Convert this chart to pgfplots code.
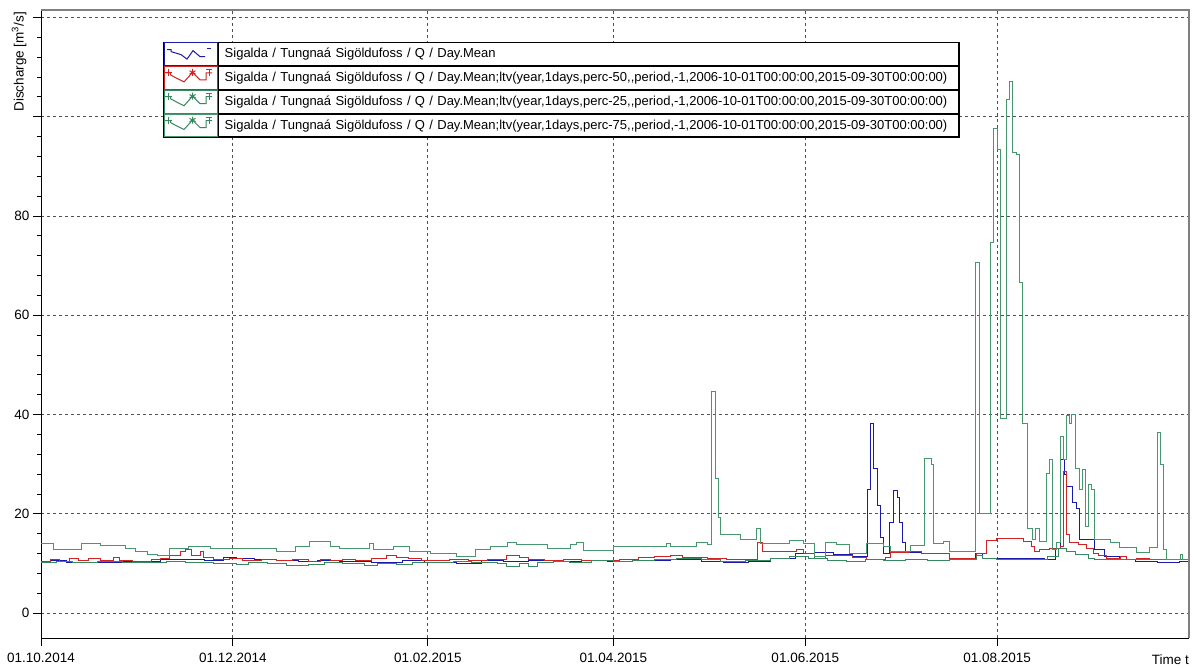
\documentclass[border=0pt]{standalone}
\usepackage{pgfplots}
\pgfplotsset{compat=1.18}
\usepackage{fontspec}
\setmainfont{Liberation Sans}
\definecolor{cblue}{RGB}{25,25,170}
\definecolor{cred}{RGB}{210,35,35}
\definecolor{cgreen}{RGB}{55,135,95}
\definecolor{cgreenb}{RGB}{70,150,110}
\definecolor{gridc}{RGB}{80,80,80}
\definecolor{framec}{RGB}{128,128,128}
\newcommand\fs{\fontsize{13.5}{16}\selectfont}
\newcommand\lfs{\fontsize{13}{16}\selectfont}
\newcommand\cc{,\kern0pt,}
\pgfplotsset{
  zigblue/.style={legend image code/.code={
    \path (0pt,-11.4pt) rectangle (53.7pt,11.4pt);
    \draw[cblue,line width=1pt] (3pt,4.5pt) -- (7pt,4.5pt) -- (7pt,2.5pt) -- (17pt,-0.5pt) -- (23pt,-5pt) -- (29pt,3.5pt) -- (36pt,-2.5pt) -- (41pt,-2.5pt);
    \draw[cblue,line width=1pt] (43pt,6pt) -- (47pt,6pt);
  }},
  zigmark/.style={legend image code/.code={
    \path (0pt,-11.4pt) rectangle (53.7pt,11.4pt);
    \draw[#1,line width=1pt] (2pt,5pt) -- (6.5pt,5pt) -- (6.5pt,3pt) -- (12pt,0pt) -- (20pt,-4pt) -- (28.5pt,5.5pt) -- (36pt,-2pt) -- (42pt,-2pt) -- (42pt,5pt) -- (48pt,5pt);
    \draw[#1,line width=1pt] (4.5pt,1.5pt) -- (4.5pt,8.5pt) (1pt,5pt) -- (8pt,5pt);
    \draw[#1,line width=1pt] (28.5pt,2pt) -- (28.5pt,9pt) (25.5pt,3.8pt) -- (31.5pt,7.2pt) (25.5pt,7.2pt) -- (31.5pt,3.8pt);
    \draw[#1,line width=1pt] (45pt,1.5pt) -- (45pt,8.5pt) (42pt,8.5pt) -- (48pt,8.5pt);
  }},
}
\begin{document}
\begin{tikzpicture}
\useasboundingbox (0,0) rectangle (1194pt,667pt);
\begin{axis}[
  at={(41pt,29pt)}, anchor=south west,
  scale only axis, width=1148pt, height=628pt,
  xmin=0, xmax=365, ymin=-5, ymax=121.5,
  clip=false,
  axis x line*=bottom, axis y line*=left,
  axis line style={black, line width=1pt},
  xtick={0,61,123,182,243,304},
  xticklabels={01.10.2014,01.12.2014,01.02.2015,01.04.2015,01.06.2015,01.08.2015},
  ytick={0,20,40,60,80,100,120},
  yticklabels={0,20,40,60,80,{},{}},
  minor y tick num=4,
  tick align=outside,
  major tick length=8pt, minor tick length=4pt,
  tick style={black, line width=0.8pt},
  grid=major,
  major grid style={gridc, dash pattern=on 3pt off 3pt, line width=0.8pt},
  tick label style={font=\fs},
  /pgf/number format/assume math mode=true,
  xticklabel style={yshift=-4pt},
  legend style={at={(0.1063,0.9495)}, anchor=north west, draw=black, line width=1pt,
    inner sep=0pt, row sep=0pt, column sep=0pt, font=\lfs,
    nodes={draw=black, line width=1pt, text width=728pt, inner xsep=6pt, inner ysep=3pt, text height=12.1pt, text depth=4.7pt, anchor=west}},
  legend cell align=left,
]
\addplot[cblue, line width=1pt, const plot, zigblue] coordinates {
(0,10.4)(3,10.6)(8,10.3)(14,10.2)(26,10.4)(32,10.5)(38,10.8)(45,10.9)(52,10.7)(58,11.2)(62,11.0)(68,10.8)(75,10.6)(82,10.4)(88,10.6)(95,10.5)(105,10.3)(115,10.6)(122,10.3)(132,10.1)(140,10.6)(147,10.5)(155,10.7)(163,10.5)(172,10.7)(180,10.4)(188,10.6)(195,10.7)(200,10.8)(210,10.5)(217,10.2)(225,10.4)(232,11.0)(240,12.0)(246,12.2)(252,11.8)(258,11.5)(262.7,24.9)(263.8,38.3)(264.8,29.2)(265.9,21.7)(266.9,15.2)(268,12.1)(269.9,18.2)(271,24.7)(272.2,23.4)(273.1,18.2)(273.8,14.2)(274.9,12.3)(280,12.1)(289,11.1)(297,12.1)(299.5,11.0)(319,10.8)(322.5,13.1)(324,30.9)(325.3,28.0)(326.2,25.6)(328.1,22.2)(329.2,21.0)(330.2,14.8)(334.8,12.8)(338,11.5)(343,10.8)(348,10.5)(355,10.2)(362,10.5)(365,10.5)
};
\addlegendentry{\mbox{Sigalda / Tungnaá Sigöldufoss / Q / Day.Mean}}
\addplot[cred, line width=1pt, const plot, zigmark=cred] coordinates {
(0,10.5)(3,10.8)(6,10.5)(9,11.0)(12,10.7)(15,11.1)(19,10.6)(23,11.3)(25,10.7)(29,10.4)(35,10.8)(38,11.0)(41,11.7)(44.2,12.4)(46.1,12.9)(47.9,11.7)(50.6,12.4)(51.8,11.2)(55,10.8)(60,11.0)(64,10.7)(70,10.9)(75,10.6)(80,10.9)(85,10.5)(89,10.9)(92,10.7)(96,10.9)(100,10.6)(105,11.0)(110,11.7)(113,11.2)(117,11.0)(121,10.7)(125,10.6)(130,10.8)(136,10.6)(142,10.9)(148,11.7)(152,11.2)(155,10.9)(160,10.6)(166,10.8)(172,10.7)(178,10.6)(184,10.9)(190,11.2)(195,11.5)(200,11.7)(204,11.3)(212,11.0)(218,10.9)(222,10.8)(227.8,14.2)(229.5,12.5)(240.3,12.8)(242.3,12.0)(246,11.1)(249.3,11.6)(258,11.3)(262.5,10.8)(268.5,11.2)(270,12.3)(276,12.5)(280,12.1)(289,11.1)(297.5,12.1)(300.7,14.6)(303.7,15.0)(312.3,14.5)(314.9,13.5)(316,12.5)(317.6,12.8)(320.8,13.1)(324,13.5)(325.1,28.6)(326,15.8)(327,14.2)(329.8,13.9)(332.5,13.1)(334.6,12.1)(336.2,11.6)(338.9,11.1)(343.1,11.4)(345.2,10.8)(348.4,11.1)(352.6,10.8)(365,10.8)
};
\addlegendentry{\mbox{Sigalda / Tungnaá Sigöldufoss / Q / Day.Mean;ltv(year,1days,perc-50\cc period,-1,2006-10-01T00:00:00,2015-09-30T00:00:00)}}
\addplot[cgreen, line width=1pt, const plot, zigmark=cgreen] coordinates {
(0,10.2)(5,10.4)(10,10.3)(18,10.5)(26,10.3)(33,10.2)(40,10.5)(46,10.3)(55,10.1)(62,9.9)(66,10.3)(72,10.0)(78,9.7)(85,9.9)(90,10.2)(96,10.0)(103,9.7)(107,10.1)(113,9.8)(118,10.3)(125,10.2)(131,10.4)(137,10.3)(145,10.0)(148,9.5)(152,10.0)(155,9.5)(158,10.2)(163,10.5)(168,10.3)(175,10.6)(182,10.4)(188,10.6)(195,10.8)(202,11.0)(210,10.8)(216,10.5)(224,10.7)(232,11.1)(238,11.4)(244,11.0)(250,10.6)(256,10.5)(262,10.8)(268,10.7)(275,10.9)(282,10.6)(289,10.8)(297.5,11.6)(299.5,11.1)(303.7,10.8)(320,11.4)(323.5,13.1)(326,12.5)(329,11.8)(333,11.1)(335,10.8)(365,10.8)
};
\addlegendentry{\mbox{Sigalda / Tungnaá Sigöldufoss / Q / Day.Mean;ltv(year,1days,perc-25\cc period,-1,2006-10-01T00:00:00,2015-09-30T00:00:00)}}
\addplot[cgreenb, line width=1pt, const plot, zigmark=cgreen] coordinates {
(0,14.1)(4,12.8)(13,14.0)(19,13.6)(27,13.1)(30,12.5)(34,11.9)(37,11.7)(41,13.1)(47,13.4)(54,13.0)(75,12.5)(81,13.4)(85.5,14.4)(92,13.4)(95,13.1)(104.6,14.1)(105.7,12.75)(112,13.5)(117.3,12.4)(123.7,12.1)(132.2,11.4)(138,12.75)(142.8,13.4)(148.2,14.2)(151.3,13.8)(160.9,13.1)(168.2,13.8)(170.3,14.2)(172.5,12.6)(182,13.5)(198.9,14.0)(200,13.5)(208.5,14.2)(212,13.8)(213.1,44.7)(214.4,27.2)(215.4,19.2)(215.9,15.8)(222.3,14.8)(227.6,17.0)(228.8,14.1)(238.1,14.6)(242.3,14.0)(246,11.5)(249.3,14.3)(253,13.8)(257.2,12.1)(262.5,14.1)(267.8,13.4)(270,12.4)(276.3,13.7)(280.9,31.1)(283.2,29.9)(283.8,14.1)(287,14.4)(289,12.5)(297.2,70.7)(298.3,20.0)(302,74.6)(303,97.7)(304.1,93.4)(305,39.3)(306.9,103.5)(308,107.0)(309,92.8)(310,92.3)(311.1,66.6)(312,38.3)(313.6,17.0)(315.4,14.8)(316.2,17.0)(317.4,14.5)(319.8,28.1)(320.8,31.0)(321.7,12.8)(323,14.2)(324,35.6)(325.1,31.0)(326,39.8)(327,38.3)(327.7,40.0)(328.8,29.2)(330.2,24.9)(331.2,29.0)(332,17.5)(333,25.9)(334.1,24.9)(334.8,14.8)(339.9,14.2)(343,13.2)(348.3,12.2)(352.6,13.2)(354.9,36.3)(356,29.9)(357,12.8)(358,10.8)(362.2,11.9)(363,10.8)(365,10.8)
};
\addlegendentry{\mbox{Sigalda / Tungnaá Sigöldufoss / Q / Day.Mean;ltv(year,1days,perc-75\cc period,-1,2006-10-01T00:00:00,2015-09-30T00:00:00)}}
\draw[framec, line width=2pt] (rel axis cs:0,1) -- (rel axis cs:1,1) -- (rel axis cs:1,0);
\end{axis}
\node[rotate=90, anchor=east, inner sep=0pt, font=\fs] at (19pt,655pt) {Discharge [m\textsuperscript{3}/s]};
\node[anchor=base east, inner sep=0pt, font=\fs] at (1189pt,2.5pt) {Time t};
\end{tikzpicture}
\end{document}
